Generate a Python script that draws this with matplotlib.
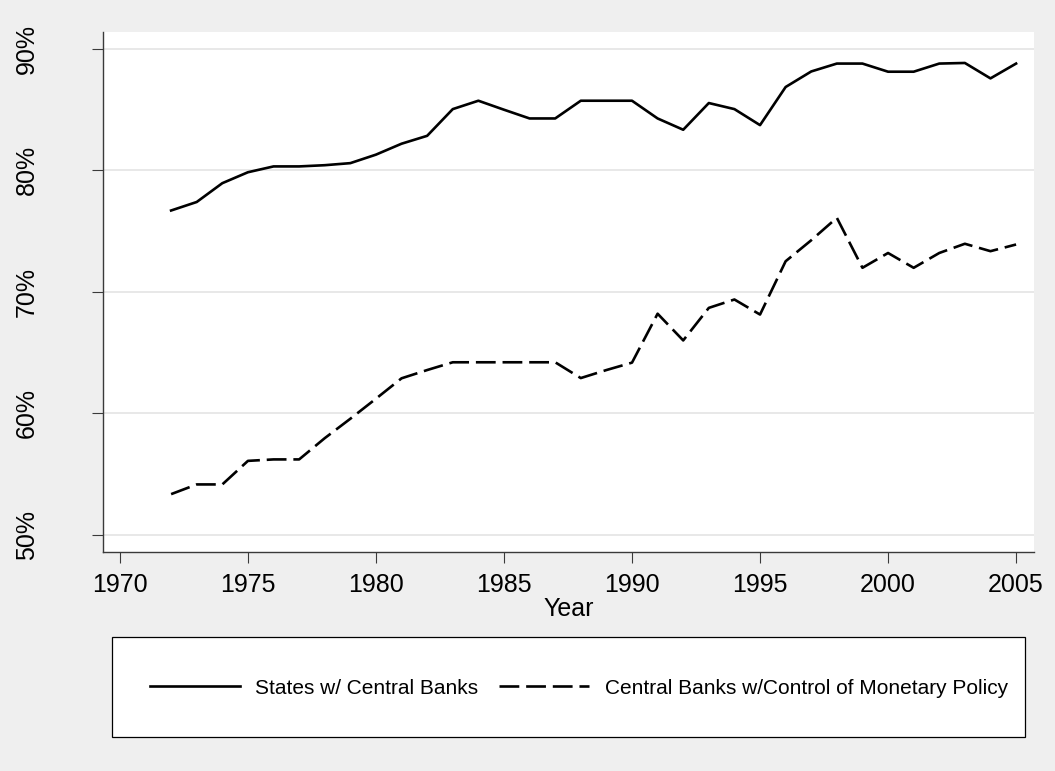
import matplotlib
matplotlib.use("Agg")
import matplotlib.pyplot as plt
from matplotlib.patches import Rectangle
from matplotlib.ticker import FuncFormatter

plt.rcParams['font.family'] = ['Liberation Sans', 'DejaVu Sans']

years = list(range(1972, 2006))
states_cb = [76.7, 77.4, 78.95, 79.85, 80.33, 80.33, 80.43, 80.6, 81.3, 82.2,
             82.85, 85.05, 85.74, 85.0, 84.28, 84.28, 85.74, 85.74, 85.74, 84.28,
             83.35, 85.55, 85.05, 83.73, 86.87, 88.15, 88.8, 88.8, 88.13, 88.13,
             88.8, 88.85, 87.58, 88.8]
cb_control = [53.34, 54.14, 54.14, 56.08, 56.2, 56.2, 57.95, 59.55, 61.2, 62.88,
              63.56, 64.2, 64.2, 64.2, 64.2, 64.2, 62.9, 63.56, 64.17, 68.2,
              66.0, 68.68, 69.37, 68.13, 72.52, 74.25, 76.1, 71.98, 73.2, 71.98,
              73.2, 73.96, 73.35, 73.9]
series_labels = ["States w/ Central Banks", "Central Banks w/Control of Monetary Policy"]
xticks = [1970, 1975, 1980, 1985, 1990, 1995, 2000, 2005]
yticks = [50, 60, 70, 80, 90]
xlabel = "Year"

W, H = 1055, 771
fig = plt.figure(figsize=(W / 100, H / 100), dpi=100, facecolor='#efefef')
ax = fig.add_axes([103 / W, 1 - 551.7 / H, (1034 - 103) / W, (551.7 - 32) / H])
ax.set_facecolor('white')

for yv in yticks:
    ax.axhline(yv, color='#e6e6e6', lw=1.3, zorder=0)

ax.plot(years, states_cb, color='black', lw=1.9,
        label=series_labels[0], zorder=3)
ax.plot(years, cb_control, color='black', lw=1.9, linestyle=(0, (7.5, 2.6)),
        label=series_labels[1], zorder=3)

ax.set_xlim(1969.34, 2005.7)
ax.set_ylim(48.6, 91.4)
ax.set_xticks(xticks)
ax.set_yticks(yticks)
ax.yaxis.set_major_formatter(FuncFormatter(lambda v, p: f"{int(v)}%"))

for s in ['top', 'right']:
    ax.spines[s].set_visible(False)
for s in ['left', 'bottom']:
    ax.spines[s].set_color('#3a3a3a')
    ax.spines[s].set_linewidth(1.0)

ax.tick_params(axis='x', direction='out', length=8, width=0.8, color='#3a3a3a',
               labelsize=18, pad=7)
ax.tick_params(axis='y', direction='out', length=8, width=0.8, color='#3a3a3a',
               labelsize=18, pad=38)
for lab in ax.get_yticklabels():
    lab.set_rotation(90)
    lab.set_va('center')

fig.text(569 / W, 1 - 609.5 / H, xlabel, ha='center', va='center', fontsize=18)

# legend box
rect = Rectangle((111.7 / W, 1 - 737 / H), (1025 - 111.7) / W, (737 - 637) / H,
                 transform=fig.transFigure, facecolor='white', edgecolor='black',
                 lw=0.9, zorder=1)
fig.patches.append(rect)
handles, labels = ax.get_legend_handles_labels()
leg = fig.legend(handles, labels, loc='center', bbox_to_anchor=(579 / W, 1 - 688 / H),
                 ncol=2, frameon=False, fontsize=15, handlelength=4.3,
                 handletextpad=0.75, columnspacing=1.0)
leg.set_zorder(2)

fig.savefig("out.png", dpi=100, facecolor=fig.get_facecolor())
